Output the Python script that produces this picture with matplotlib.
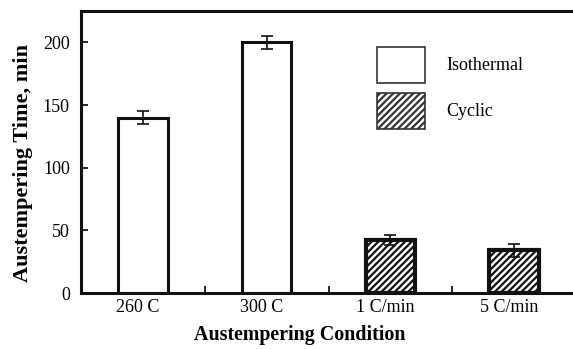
import numpy as np
import matplotlib.pyplot as plt
import matplotlib.transforms as mtransforms
from matplotlib.patches import Patch

plt.rcParams['font.family'] = ['Liberation Serif', 'DejaVu Serif']
plt.rcParams['hatch.linewidth'] = 1.6

conditions = ['260 C', '300 C', '1 C/min', '5 C/min']
times = [140, 200, 42, 34]
errors = [5, 5, 4, 5]
is_cyclic = [False, False, True, True]

fig = plt.figure(figsize=(5.73, 3.49), dpi=100)
ax = fig.add_axes([81/573, 1-293/349, 495/573, 282/349])

x = np.arange(len(conditions))
for xi, t, e, cyc in zip(x, times, errors, is_cyclic):
    ax.bar(xi, t, width=0.4, color='white', edgecolor='#111111',
           linewidth=3.0 if cyc else 2.2, hatch='/////' if cyc else None, zorder=2)
    ax.errorbar(xi, t, yerr=e, fmt='none', ecolor='#111111', elinewidth=1.2,
                capsize=4, capthick=1.2, zorder=3)

ax.set_xlim(-0.5, 3.5)
ax.set_ylim(0, 225)
ax.set_yticks([0, 50, 100, 150, 200])
ax.set_xticks(x)
ax.set_xticklabels(conditions)
ax.set_xticks([0.5, 1.5, 2.5], minor=True)
ax.tick_params(axis='x', which='major', length=0, pad=4, labelsize=13)
ax.tick_params(axis='x', which='minor', direction='in', length=5, width=1.2)
ax.tick_params(axis='y', direction='in', length=5, width=1.2, pad=8, labelsize=13)
for s in ax.spines.values():
    s.set_linewidth(2.2)
    s.set_color('#111111')

# tick labels sit a little left of the bar centres in the original
shift = mtransforms.ScaledTranslation(-5/100, 0, fig.dpi_scale_trans)
for lab in ax.get_xticklabels():
    lab.set_transform(lab.get_transform() + shift)

ax.set_xlabel('Austempering Condition', fontsize=14.4, fontweight='bold')
ax.xaxis.set_label_coords(0.442, -0.115)
ax.set_ylabel('Austempering Time, min', fontsize=16, fontweight='bold')
ax.yaxis.set_label_coords(-0.096, 0.46)

handles = [Patch(facecolor='white', edgecolor='#333333', linewidth=1.2, label='Isothermal'),
           Patch(facecolor='white', edgecolor='#333333', linewidth=1.2, hatch='/////', label='Cyclic')]
ax.legend(handles=handles, loc='upper left', bbox_to_anchor=(0.598, 0.872), frameon=False,
          borderpad=0, borderaxespad=0, handlelength=2.66, handleheight=2.64,
          handletextpad=1.16, labelspacing=0.6, fontsize=13)

fig.savefig('out.png', dpi=100)
